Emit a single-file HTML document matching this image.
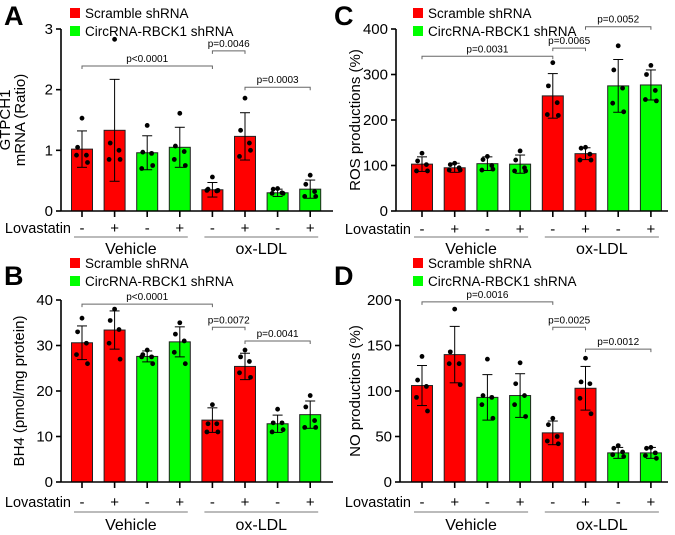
<!DOCTYPE html>
<html><head><meta charset="utf-8"><style>
html,body{margin:0;padding:0;background:#fff;}
svg{display:block;font-family:"Liberation Sans",Arial,sans-serif;}
</style></head><body>
<svg id="fig" width="675" height="535" viewBox="0 0 675 535" xmlns="http://www.w3.org/2000/svg"></svg>
<script>
// Shared categories
const lovastatin = ['-','+','-','+','-','+','-','+'];
const shrna = ['scr','scr','circ','circ','scr','scr','circ','circ'];
const groups = ['Vehicle','ox-LDL'];

// Panel A
const aMeans = [1.02,1.33,0.96,1.05,0.35,1.23,0.30,0.36];
const aSd = [0.30,0.84,0.28,0.33,0.12,0.39,0.06,0.15];
const aPoints = [[1.53,1.05,0.92,0.92,0.80],[2.83,1.12,1.00,0.85,0.85],[1.41,0.97,0.95,0.70,0.75],[1.61,1.07,0.98,0.85,0.75],[0.56,0.36,0.33,0.34,0.34],[1.86,1.33,1.12,0.90,1.00],[0.37,0.36,0.30,0.29,0.29],[0.59,0.44,0.32,0.24,0.24]];
const aTicks = [0,1,2,3];
const aP = [[0,4,2.39,'p<0.0001'],[4,5,2.64,'p=0.0046'],[5,7,2.04,'p=0.0003']];
// Panel B
const bMeans = [30.6,33.4,27.6,30.8,13.6,25.4,12.8,14.8];
const bSd = [3.7,4.2,1.2,3.3,2.7,2.9,1.9,3.0];
const bPoints = [[36,33,30.5,28,26],[38,35.5,33.5,30.5,27],[29,28,27.5,27.5,26],[35,32.5,31,28.5,26],[17,12.8,12.8,11,11],[29,27.5,26.5,24,23],[16,13,13,11,11.5],[19,16.5,13.5,12,12]];
const bTicks = [0,10,20,30,40];
const bP = [[0,4,39.1,'p<0.0001'],[4,5,34,'p=0.0072'],[5,7,31,'p=0.0041']];
// Panel C
const cMeans = [103,95,104,103,253,126,275,277];
const cSd = [16,10,15,20,49,13,58,33];
const cPoints = [[127,110,102,88,88],[105,102,95,90,90],[120,113,100,90,92],[132,112,95,88,88],[326,275,238,212,210],[140,138,125,112,112],[363,310,270,237,218],[320,300,265,245,242]];
const cTicks = [0,100,200,300,400];
const cP = [[0,4,340,'p=0.0031'],[4,5,358,'p=0.0065'],[5,7,405,'p=0.0052']];
// Panel D
const dMeans = [106,140,93,95,54,103,32,32];
const dSd = [22,31,25,24,13,24,6,6];
const dPoints = [[138,112,105,93,78],[190,143,130,130,107],[135,95,93,85,70],[131,108,95,85,72],[70,63,50,45,42],[136,110,108,92,75],[40,37,33,30,28],[38,37,32,29,26]];
const dTicks = [0,50,100,150,200];
const dP = [[0,4,198,'p=0.0016'],[4,5,170,'p=0.0025'],[5,7,146,'p=0.0012']];

const NS='http://www.w3.org/2000/svg';
const svg=document.getElementById('fig');
function mk(tag,attrs,parent,text){const e=document.createElementNS(NS,tag);for(const k in attrs)e.setAttribute(k,attrs[k]);if(text!==undefined)e.textContent=text;(parent||svg).appendChild(e);return e;}

function panel(o){
  const g=mk('g',{});
  
  
  const y=v=>o.y0-(v/o.ymax)*(o.y0-o.ytop);
  const x=i=>o.x0+i*o.step;
  const lt=mk('text',{x:o.lx,y:o.ly,'font-size':27,'font-weight':'bold'},g,o.letter);
   
  [['#ff0000','Scramble shRNA'],['#00ff00','CircRNA-RBCK1 shRNA']].forEach((l,k)=>{
    const lg=mk('g',{},g);
     
    mk('rect',{x:o.legx,y:o.legy+k*18-5,width:10,height:10,fill:l[0]},lg);
    mk('text',{x:o.legx+15,y:o.legy+k*18+5,'font-size':13.5},lg,l[1]);
  });
  const ya=mk('line',{x1:o.ax,x2:o.ax,y1:o.y0,y2:o.ytop,stroke:'#000','stroke-width':1.6},g);
   
  o.ticks.forEach(t=>{
    mk('line',{x1:o.ax-5,x2:o.ax,y1:y(t),y2:y(t),stroke:'#000','stroke-width':1.6},g);
    const tl=mk('text',{x:o.ax-8,y:y(t)+5,'font-size':15,'text-anchor':'end'},g,t);
     
  });
  const yt=mk('text',{transform:`translate(${o.tx},${(o.y0+o.ytop)/2}) rotate(-90)`,'font-size':15,'text-anchor':'middle'},g);
   
  o.title.forEach((s,k)=>mk('tspan',{x:0,dy:k?15:0},yt,s));
  o.means.forEach((m,i)=>{
    const b=mk('rect',{x:x(i)-10.5,y:y(m),width:21,height:o.y0-y(m),fill:shrna[i]==='scr'?'#ff0000':'#00ff00',stroke:'#222','stroke-width':1},g);
     
    const hi=y(m+o.sd[i]),lo=y(Math.max(0,m-o.sd[i]));
    mk('line',{x1:x(i),x2:x(i),y1:hi,y2:lo,stroke:'#000','stroke-width':1},g);
    mk('line',{x1:x(i)-5,x2:x(i)+5,y1:hi,y2:hi,stroke:'#000','stroke-width':1},g);
    mk('line',{x1:x(i)-5,x2:x(i)+5,y1:lo,y2:lo,stroke:'#000','stroke-width':1},g);
    const offs=[0,-4,4,-5,5];
    o.points[i].forEach((p,k)=>{
      const d=mk('circle',{cx:x(i)+offs[k]*1.1,cy:y(p),r:2.4,fill:'#000'},g);
       
    });
    mk('line',{x1:x(i),x2:x(i),y1:o.y0,y2:o.y0+6,stroke:'#000','stroke-width':1.6},g);
    const lv=mk('text',{x:x(i),y:o.y0+o.lvY,'font-size':15,'text-anchor':'middle'},g,lovastatin[i]);
     
  });
  const xa=mk('line',{x1:o.ax,x2:o.xend,y1:o.y0,y2:o.y0,stroke:'#000','stroke-width':1.6},g);
   
  const lvl=mk('text',{x:o.x0-11,y:o.y0+o.lvY,'font-size':14.5,'text-anchor':'end'},g,'Lovastatin');
   
  groups.forEach((gn,k)=>{
    const a=x(k*4)-8,b=x(k*4+3)+8;
    mk('line',{x1:a,x2:b,y1:o.y0+o.lineY,y2:o.y0+o.lineY,stroke:'#777','stroke-width':1},g);
    const gl=mk('text',{x:(a+b)/2,y:o.y0+o.grpY,'font-size':16,'text-anchor':'middle'},g,gn);
     
  });
  o.p.forEach(pp=>{
    const a=x(pp[0]),b=x(pp[1]),yy=y(pp[2]);
    const br=mk('path',{d:`M${a},${yy+3}V${yy}H${b}V${yy+3}`,fill:'none',stroke:'#666','stroke-width':1},g);
     
    const pt=mk('text',{x:(a+b)/2,y:yy-4,'font-size':10,'text-anchor':'middle'},g,pp[3]);
     
  });
}
panel({letter:'A',lx:4,ly:25,legx:70,legy:13,ax:61,x0:82,step:32.6,xend:333,y0:211,ytop:29,ymax:3,lvY:22,lineY:26,grpY:43,ticks:aTicks,means:aMeans,sd:aSd,points:aPoints,p:aP,title:['GTPCH1','mRNA (Ratio)'],tx:10});
panel({letter:'B',lx:4,ly:285,legx:70,legy:263,ax:61,x0:82,step:32.6,xend:333,y0:482,ytop:300,ymax:40,lvY:25,lineY:30,grpY:48,ticks:bTicks,means:bMeans,sd:bSd,points:bPoints,p:bP,title:['BH4 (pmol/mg protein)'],tx:24});
panel({letter:'C',lx:334,ly:25,legx:413,legy:13,ax:396,x0:422,step:32.7,xend:668,y0:211,ytop:29,ymax:400,lvY:23,lineY:26,grpY:43,ticks:cTicks,means:cMeans,sd:cSd,points:cPoints,p:cP,title:['ROS productions (%)'],tx:360});
panel({letter:'D',lx:334,ly:285,legx:413,legy:263,ax:400,x0:422,step:32.7,xend:668,y0:482,ytop:300,ymax:200,lvY:25,lineY:30,grpY:48,ticks:dTicks,means:dMeans,sd:dSd,points:dPoints,p:dP,title:['NO productions (%)'],tx:360});
</script>
</body></html>
